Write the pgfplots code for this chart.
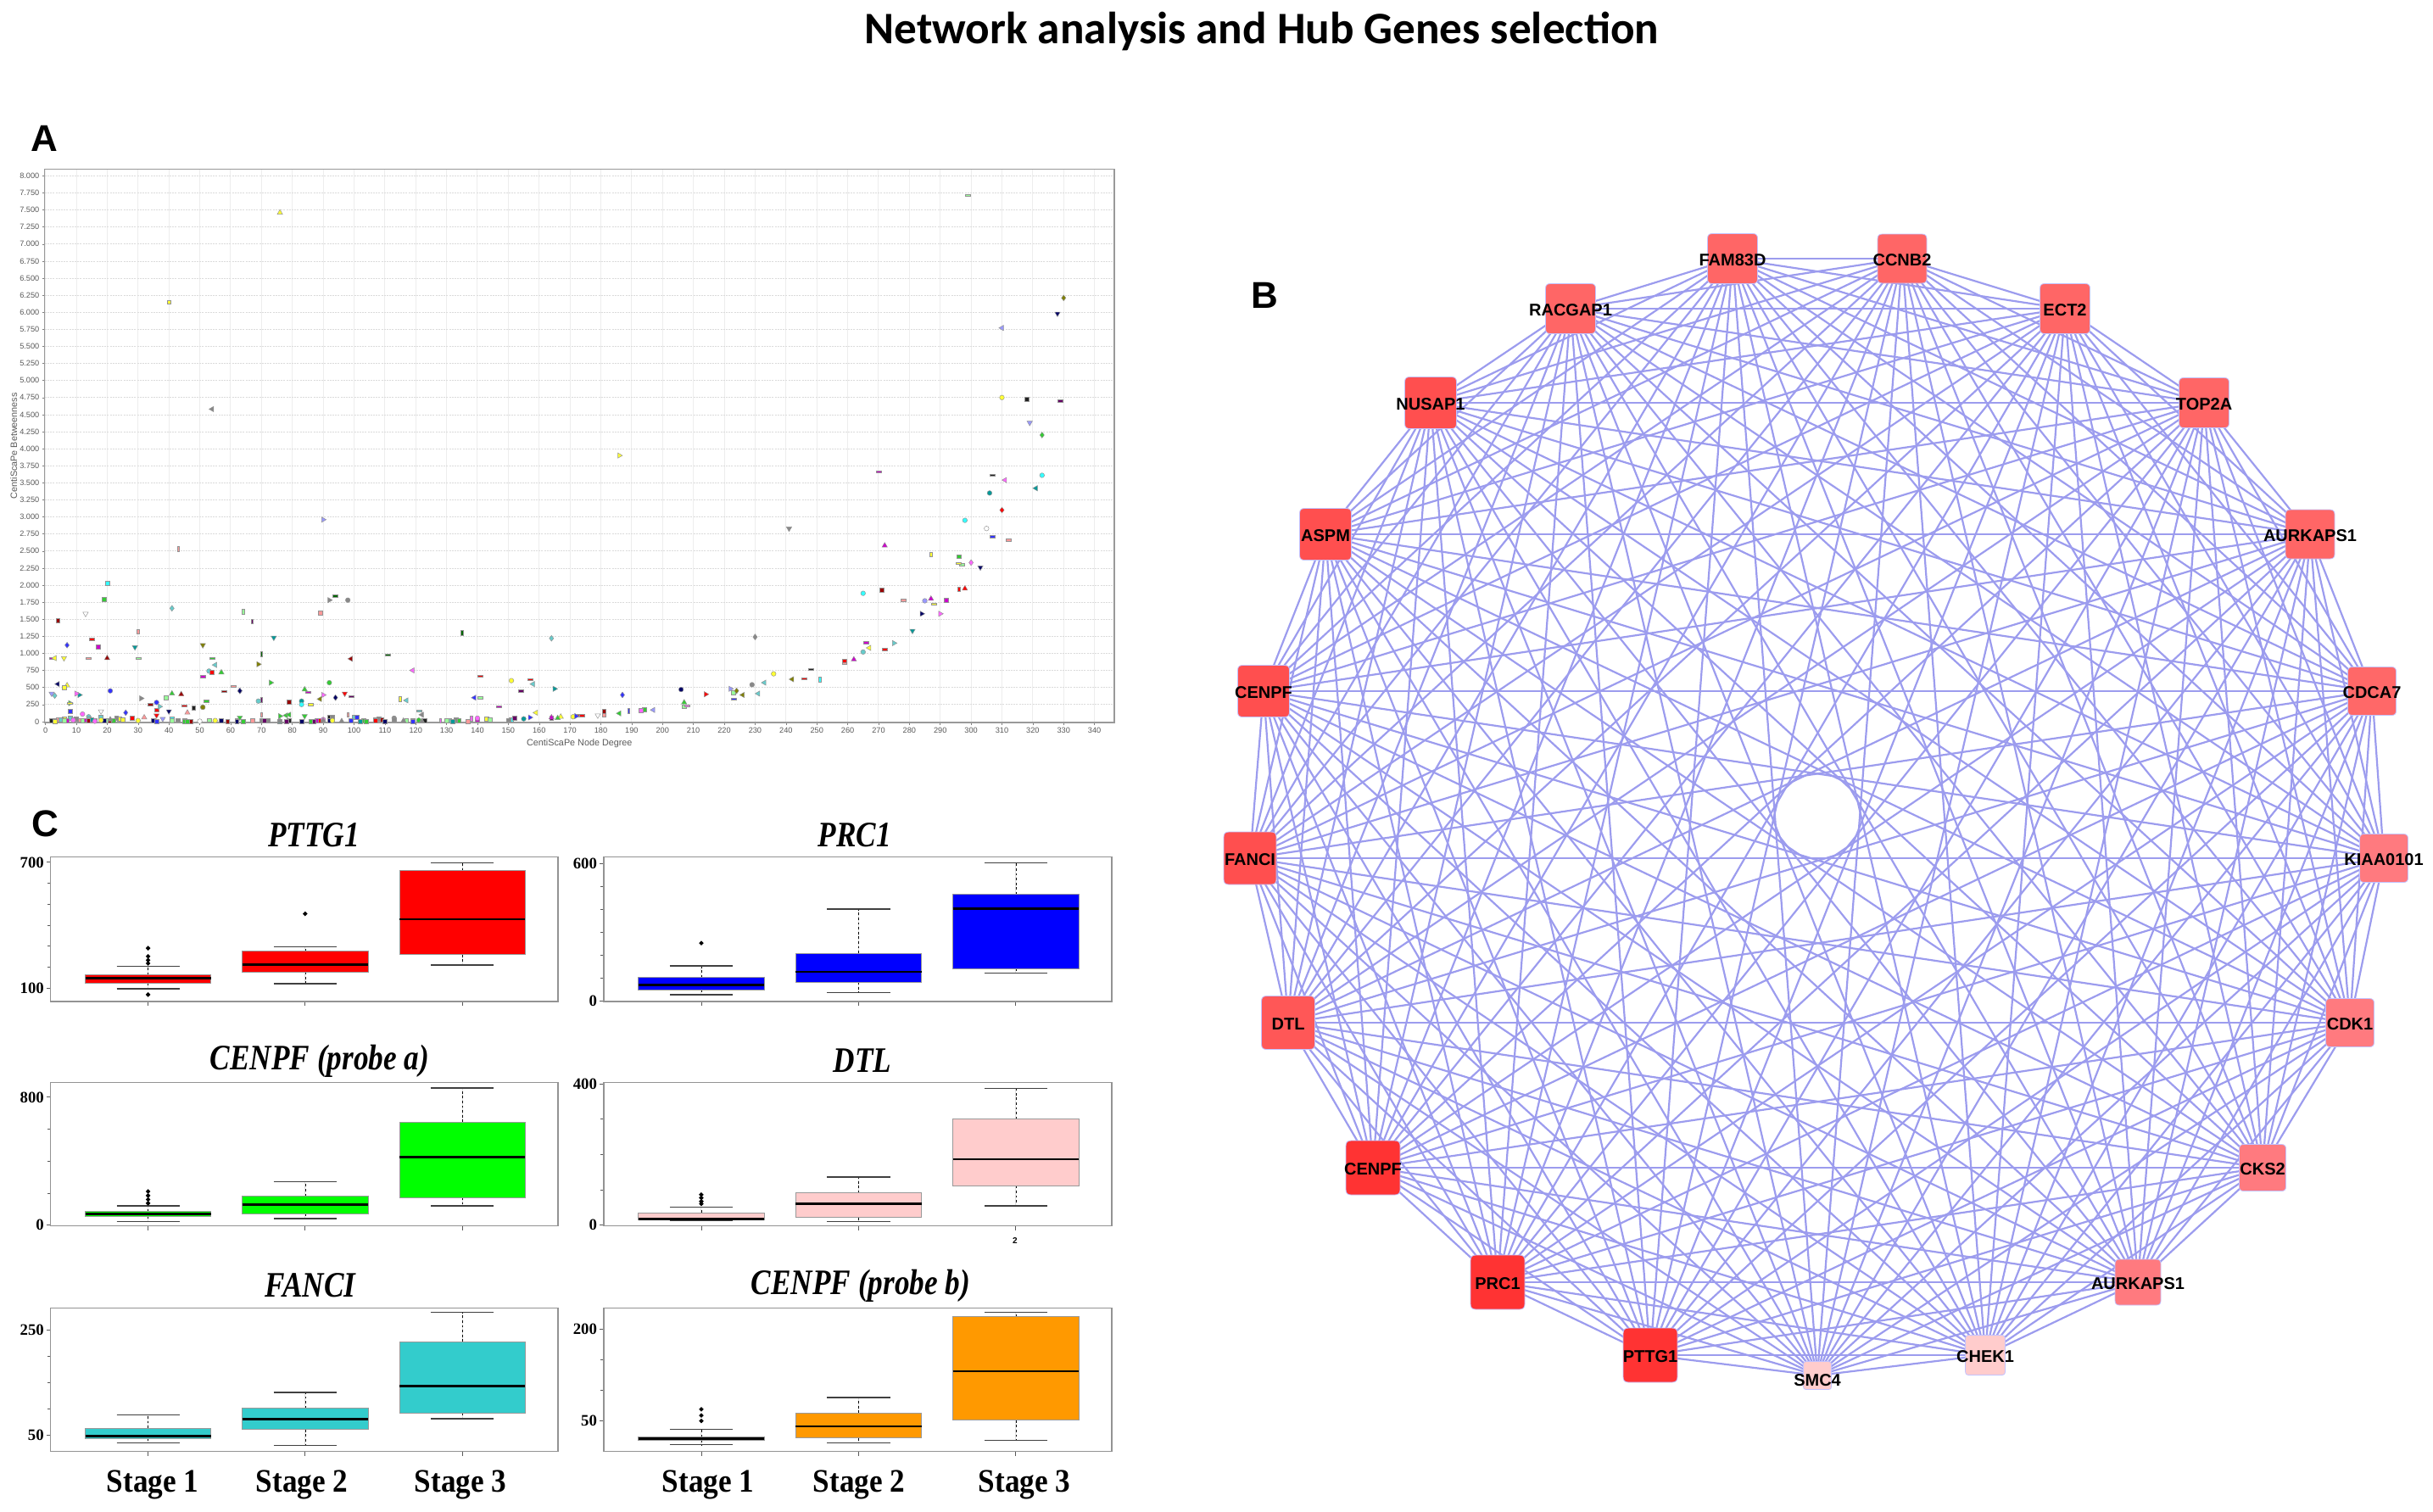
\documentclass[border=0pt]{standalone}
\usepackage{fontspec}
\usepackage{graphicx}
\usepackage{pgfplots}
\pgfplotsset{compat=1.18}
\usepgfplotslibrary{statistics}
\setmainfont{Liberation Sans}
\newfontfamily\serifb{Liberation Serif}[BoldFont={Liberation Serif Bold},BoldItalicFont={Liberation Serif Bold Italic}]
\newfontfamily\carl{Carlito}
\definecolor{yel}{HTML}{FFFF33}\definecolor{cya}{HTML}{33FFFF}\definecolor{gre}{HTML}{33CC33}
\definecolor{lgr}{HTML}{99FF99}\definecolor{dgr}{HTML}{006600}\definecolor{rd}{HTML}{FF0000}
\definecolor{dre}{HTML}{990000}\definecolor{pin}{HTML}{FF9999}\definecolor{mag}{HTML}{CC00CC}
\definecolor{lma}{HTML}{FF66FF}\definecolor{pur}{HTML}{660066}\definecolor{blu}{HTML}{3333FF}
\definecolor{nav}{HTML}{000066}\definecolor{tea}{HTML}{009999}\definecolor{lte}{HTML}{66CCCC}
\definecolor{gry}{HTML}{888888}\definecolor{oli}{HTML}{808000}\definecolor{blk}{HTML}{222222}
\definecolor{vio}{HTML}{9999FF}\definecolor{edgec}{HTML}{9C9CEE}
\definecolor{fanc}{HTML}{33CCCC}\definecolor{orng}{HTML}{FF9900}\definecolor{lpk}{HTML}{FFCCCC}
\definecolor{n1}{HTML}{FF6666}\definecolor{n2}{HTML}{FF4F4F}\definecolor{n3}{HTML}{FF3333}
\definecolor{n4}{HTML}{FF7A7F}\definecolor{n5}{HTML}{FFCCCC}\definecolor{n6}{HTML}{FF5757}
\pgfdeclareplotmark{rbox}{%
  \pgfpathmoveto{\pgfqpoint{-.8\pgfplotmarksize}{-\pgfplotmarksize}}%
  \pgfpathlineto{\pgfqpoint{.8\pgfplotmarksize}{-\pgfplotmarksize}}%
  \pgfpathcurveto{\pgfqpoint{.94\pgfplotmarksize}{-\pgfplotmarksize}}{\pgfqpoint{\pgfplotmarksize}{-.94\pgfplotmarksize}}{\pgfqpoint{\pgfplotmarksize}{-.8\pgfplotmarksize}}%
  \pgfpathlineto{\pgfqpoint{\pgfplotmarksize}{.8\pgfplotmarksize}}%
  \pgfpathcurveto{\pgfqpoint{\pgfplotmarksize}{.94\pgfplotmarksize}}{\pgfqpoint{.94\pgfplotmarksize}{\pgfplotmarksize}}{\pgfqpoint{.8\pgfplotmarksize}{\pgfplotmarksize}}%
  \pgfpathlineto{\pgfqpoint{-.8\pgfplotmarksize}{\pgfplotmarksize}}%
  \pgfpathcurveto{\pgfqpoint{-.94\pgfplotmarksize}{\pgfplotmarksize}}{\pgfqpoint{-\pgfplotmarksize}{.94\pgfplotmarksize}}{\pgfqpoint{-\pgfplotmarksize}{.8\pgfplotmarksize}}%
  \pgfpathlineto{\pgfqpoint{-\pgfplotmarksize}{-.8\pgfplotmarksize}}%
  \pgfpathcurveto{\pgfqpoint{-\pgfplotmarksize}{-.94\pgfplotmarksize}}{\pgfqpoint{-.94\pgfplotmarksize}{-\pgfplotmarksize}}{\pgfqpoint{-.8\pgfplotmarksize}{-\pgfplotmarksize}}%
  \pgfpathclose\pgfusepathqfillstroke}
\pgfplotsset{
  mks/.style={mark=square*,mark size=.6pt},
  mko/.style={mark=*,mark size=.7pt},
  mkm/.style={mark=diamond*,mark size=.85pt},
  mkt/.style={mark=triangle*,mark size=.9pt},
  mkd/.style={mark=triangle*,mark size=.9pt,every mark/.append style={rotate=180}},
  mkl/.style={mark=triangle*,mark size=.9pt,every mark/.append style={rotate=90}},
  mkr/.style={mark=triangle*,mark size=.9pt,every mark/.append style={rotate=-90}},
  mkh/.style={mark=square*,mark size=.6pt,every mark/.append style={xscale=1.25,yscale=.5}},
  mkv/.style={mark=square*,mark size=.6pt,every mark/.append style={xscale=.55,yscale=1.2}},
}
\newcommand\Pt[3]{\addplot[forget plot,only marks,mk#1,every mark/.append style={fill=#2,draw=gray!85,line width=.12pt}] coordinates {#3};}
% ---- box panels
\newcommand\Bx[9]{% pos, colour, lw, q1, med, q3, uw, data spec
  \addplot[forget plot,boxplot prepared={draw position=#1,lower whisker=#3,lower quartile=#4,median=#5,upper quartile=#6,upper whisker=#7},
    fill=#2,mark=*,mark size=.42pt,every mark/.append style={fill=black,draw=black},draw=black] #8#9;}
\pgfplotsset{
  boxstyle/.style={scale only axis,xmin=.38,xmax=3.61,clip=false,
    axis line style={draw=gray!85,line width=.3pt},
    tick align=outside,tick pos=left,xtick={1,2,3},xticklabels={},
    major tick length=1.2pt,minor tick length=.9pt,
    tick style={draw=gray!70!black,line width=.2pt},
    yticklabel style={font=\serifb\bfseries\fontsize{4.7}{5}\selectfont,inner sep=.6pt,/pgf/number format/assume math mode=true},
    boxplot/box extend=.8,boxplot/whisker extend=.4,boxplot/draw direction=y,
    boxplot/every box/.style={draw=gray!80,line width=.2pt},
    boxplot/every median/.style={draw=black,line width=.65pt},
    boxplot/draw/lower whisker/.code={%
      \draw[black,dash pattern=on .7pt off .7pt,line width=.12pt] (boxplot box cs:\pgfplotsboxplotvalue{lower quartile},.5) -- (boxplot box cs:\pgfplotsboxplotvalue{lower whisker},.5);
      \draw[black!75,line width=.35pt] (boxplot whisker cs:\pgfplotsboxplotvalue{lower whisker},0) -- (boxplot whisker cs:\pgfplotsboxplotvalue{lower whisker},1);},
    boxplot/draw/upper whisker/.code={%
      \draw[black,dash pattern=on .7pt off .7pt,line width=.12pt] (boxplot box cs:\pgfplotsboxplotvalue{upper quartile},.5) -- (boxplot box cs:\pgfplotsboxplotvalue{upper whisker},.5);
      \draw[black!75,line width=.35pt] (boxplot whisker cs:\pgfplotsboxplotvalue{upper whisker},0) -- (boxplot whisker cs:\pgfplotsboxplotvalue{upper whisker},1);},
  },
  edge/.style={forget plot,draw=edgec,line width=.55pt,mark=none},
}
\newcommand\Nd[6][-.3pt]{\addplot[forget plot,only marks,mark=rbox,mark size=#4*0.125pt,
   every mark/.append style={fill=#5,draw=vio!60,line width=.2pt},
   nodes near coords={#6},
   every node near coord/.append style={anchor=center,inner sep=0pt,text=black,yshift=#1,
      font=\bfseries\fontsize{5}{6}\selectfont}] coordinates {(#2,#3)};}
\newcommand\Ttl[3]{\node[font=\serifb\bfseries\itshape\fontsize{8.8}{10}\selectfont] at (axis cs:#1,#2) {\scalebox{1}[1.2]{#3}};}
\newcommand\Stg[2]{\node[font=\serifb\bfseries\fontsize{8.8}{10}\selectfont] at (axis cs:#1,1751) {\scalebox{1}[1.1]{Stage #2}};}
\def\NX{{2043,2243,2435,2599,2724,2797,2811,2771,2668,2521,2341,2143,1946,1766,1619,1519,1474,1490,1563,1687,1852}}
\def\NY{{305,305,364,475,630,815,1012,1206,1377,1512,1598,1622,1598,1512,1377,1206,1012,815,630,475,364}}
\begin{document}
\begin{tikzpicture}
\path[use as bounding box] (0pt,0pt) rectangle (717.25pt,445.5pt);
% ===== overlay: title, letters, network
\begin{axis}[at={(0pt,0pt)},anchor=south west,scale only axis,width=717.25pt,height=445.5pt,
  xmin=0,xmax=2869,ymin=0,ymax=1782,y dir=reverse,hide axis,clip=false]
\foreach \i in {0,...,19}{%
  \pgfmathtruncatemacro\k{\i+1}%
  \foreach \j in {\k,...,20}{%
    \pgfmathtruncatemacro\xa{\NX[\i]}\pgfmathtruncatemacro\ya{\NY[\i]}%
    \pgfmathtruncatemacro\xb{\NX[\j]}\pgfmathtruncatemacro\yb{\NY[\j]}%
    \edef\tmp{\noexpand\addplot[edge] coordinates {(\xa,\ya)(\xb,\yb)};}\tmp
  }}
\Nd{2043}{305}{59}{n1}{FAM83D}
\Nd{2243}{305}{58}{n1}{CCNB2}
\Nd{2435}{364}{59}{n1}{ECT2}
\Nd{2599}{475}{59}{n1}{TOP2A}
\Nd{2724}{630}{58}{n1}{AURKAPS1}
\Nd{2797}{815}{57}{n1!90!n4}{CDCA7}
\Nd{2811}{1012}{57}{n4}{KIAA0101}
\Nd{2771}{1206}{57}{n4}{CDK1}
\Nd{2668}{1377}{55}{n4}{CKS2}
\Nd{2521}{1512}{54}{n4}{AURKAPS1}
\Nd{2341}{1598}{47}{n5}{CHEK1}
\Nd[-1.5pt]{2143}{1622}{33}{n5}{SMC4}
\Nd{1946}{1598}{64}{n3}{PTTG1}
\Nd{1766}{1512}{64}{n3}{PRC1}
\Nd{1619}{1377}{64}{n3}{CENPF}
\Nd{1519}{1206}{63}{n6}{DTL}
\Nd{1474}{1012}{62}{n2}{FANCI}
\Nd{1490}{815}{61}{n2}{CENPF}
\Nd{1563}{630}{61}{n2}{ASPM}
\Nd{1687}{475}{61}{n2}{NUSAP1}
\Nd{1852}{364}{59}{n1}{RACGAP1}
\node[font=\carl\bfseries\fontsize{13.3}{15}\selectfont] at (axis cs:1488,37) {Network analysis and Hub Genes selection};
\node[font=\bfseries\fontsize{11}{12}\selectfont] at (axis cs:52,163) {A};
\node[font=\bfseries\fontsize{11}{12}\selectfont] at (axis cs:1491,348) {B};
\node[font=\bfseries\fontsize{11}{12}\selectfont] at (axis cs:53,971) {C};
\Ttl{370}{985}{PTTG1}
\Ttl{1008}{985}{PRC1}
\Ttl{377}{1251}{CENPF (probe a)}
\Ttl{1017}{1251}{DTL}
\Ttl{366}{1516}{FANCI}
\Ttl{1015}{1516}{CENPF (probe b)}
\Stg{180}{1}
\Stg{356}{2}
\Stg{543}{3}
\Stg{835}{1}
\Stg{1013}{2}
\Stg{1208}{3}
\node[font=\bfseries\fontsize{2.5}{3}\selectfont] at (axis cs:1197,1463) {2};
\end{axis}
% ===== Panel A
\begin{axis}[at={(13.18pt,395.68pt)},anchor=north west,scale only axis,width=315.3pt,height=163.2pt,
  xmin=-.25,xmax=346.4,ymin=-15,ymax=8100,clip=false,
  axis line style={draw=gray!80,line width=.3pt},
  xtick={0,10,...,340},
  ytick={0,250,...,8000},
  yticklabels={0,250,500,750,1.000,1.250,1.500,1.750,2.000,2.250,2.500,2.750,3.000,3.250,3.500,3.750,4.000,4.250,4.500,4.750,5.000,5.250,5.500,5.750,6.000,6.250,6.500,6.750,7.000,7.250,7.500,7.750,8.000},
  tick pos=left,tick align=outside,major tick length=.8pt,tick style={draw=gray,line width=.12pt},
  /pgf/number format/assume math mode=true,
  ticklabel style={font=\fontsize{2.3}{3}\selectfont,text=gray!70!black,inner sep=.6pt},
  x grid style={draw=gray!14,line width=.25pt},
  y grid style={draw=gray!28,line width=.18pt,dash pattern=on .5pt off .3pt},
  grid=major,
  xlabel={CentiScaPe Node Degree},
  ylabel={CentiScaPe Betweenness},
  label style={font=\fontsize{2.7}{3}\selectfont,text=gray!70!black},
  xlabel style={at={(axis description cs:.5,0)},anchor=north,yshift=-1.3pt},
  ylabel style={at={(axis description cs:0,.5)},anchor=south,yshift=4.6pt},
]
\Pt{t}{yel}{(76,7460)(167,70)(7,530)}
\Pt{s}{yel}{(40,6150)(143,40)}
\Pt{l}{gry}{(54,4580)(122,100)}
\Pt{r}{vio}{(90,2960)(222,480)}
\Pt{v}{pin}{(43,2530)(30,1320)(70,100)(98,100)}
\Pt{s}{cya}{(20,2030)(41,40)(151,30)}
\Pt{s}{gre}{(19,1790)(296,2420)(194,180)}
\Pt{m}{lte}{(41,1660)(164,1220)(3,380)}
\Pt{r}{gry}{(92,1780)(31,340)}
\Pt{h}{dgr}{(94,1840)(111,980)}
\Pt{o}{gry}{(98,1780)(229,540)(113,50)}
\Pt{s}{pin}{(89,1590)(181,100)(259,870)}
\Pt{v}{lgr}{(64,1610)}
\Pt{d}{white}{(13,1580)(18,150)(179,90)}
\Pt{v}{pur}{(67,1470)(70,320)}
\Pt{s}{dre}{(4,1480)(79,290)(271,1930)(181,150)}
\Pt{v}{dgr}{(135,1300)(70,990)}
\Pt{h}{rd}{(15,1210)(141,670)(157,620)(45,230)(173,90)(246,630)(272,1060)}
\Pt{d}{tea}{(74,1230)(29,1090)(281,1330)}
\Pt{m}{blu}{(7,1120)(63,450)(26,130)(187,390)}
\Pt{s}{mag}{(17,1100)(292,1780)(140,20)}
\Pt{d}{oli}{(51,1120)}
\Pt{h}{mag}{(2,930)(51,660)(147,220)(85,430)(270,3660)(266,1160)}
\Pt{l}{yel}{(3,930)(159,130)(267,1080)}
\Pt{d}{yel}{(6,930)}
\Pt{h}{pin}{(14,930)(61,520)(278,1780)(312,2660)}
\Pt{t}{dre}{(20,930)(44,400)}
\Pt{h}{lgr}{(30,930)(141,350)(297,2300)(299,7716)}
\Pt{h}{gre}{(54,930)(52,300)}
\Pt{l}{dre}{(99,920)}
\Pt{l}{lte}{(55,830)(158,550)(231,410)(233,570)(117,310)}
\Pt{t}{gre}{(57,720)(84,470)(41,410)}
\Pt{o}{lte}{(53,740)(265,1020)(69,300)(14,70)}
\Pt{s}{rd}{(54,720)(36,170)(259,890)}
\Pt{r}{oli}{(69,840)}
\Pt{l}{lma}{(119,750)(311,3540)}
\Pt{l}{nav}{(4,550)}
\Pt{s}{yel}{(6,500)}
\Pt{r}{gre}{(73,570)(8,270)(76,80)}
\Pt{o}{gre}{(92,570)(121,20)}
\Pt{o}{yel}{(151,600)(51,210)(236,700)(310,4750)(171,70)}
\Pt{h}{pur}{(154,450)(329,4700)(99,370)}
\Pt{r}{tea}{(165,480)(11,390)}
\Pt{d}{vio}{(2,410)(319,4380)(38,40)}
\Pt{r}{lma}{(10,410)(90,390)(290,1580)}
\Pt{o}{blu}{(21,450)(36,280)}
\Pt{s}{lgr}{(39,350)(144,30)(207,220)(223,420)}
\Pt{h}{dre}{(58,440)(34,250)}
\Pt{l}{blu}{(139,350)}
\Pt{d}{rd}{(97,410)(36,90)}
\Pt{l}{oli}{(89,330)(242,620)(226,390)}
\Pt{m}{nav}{(94,350)(63,450)}
\Pt{v}{yel}{(115,330)(287,2450)}
\Pt{r}{lte}{(275,1150)(37,220)}
\Pt{h}{lte}{(121,160)}
\Pt{h}{yel}{(8,270)(86,250)(288,1720)(296,2320)}
\Pt{h}{blk}{(248,770)(307,3610)}
\Pt{s}{blk}{(48,200)(318,4725)}
\Pt{o}{tea}{(83,300)(306,3350)}
\Pt{o}{cya}{(83,250)(298,2950)(323,3610)(265,1880)}
\Pt{s}{blu}{(8,150)}
\Pt{o}{lma}{(12,110)(140,50)}
\Pt{t}{pin}{(32,60)(46,130)}
\Pt{d}{nav}{(40,150)(328,5980)(303,2260)}
\Pt{d}{gre}{(63,60)(84,80)}
\Pt{l}{gre}{(186,120)(78,90)(79,100)}
\Pt{m}{oli}{(330,6210)(224,450)}
\Pt{l}{vio}{(310,5770)(197,170)}
\Pt{m}{gre}{(323,4200)}
\Pt{r}{yel}{(186,3900)}
\Pt{l}{tea}{(321,3420)}
\Pt{m}{rd}{(310,3100)}
\Pt{d}{gry}{(241,2830)}
\Pt{o}{white}{(305,2830)(50,5)}
\Pt{h}{blu}{(307,2710)(223,330)}
\Pt{t}{mag}{(272,2580)(262,910)(287,1800)}
\Pt{m}{lma}{(300,2330)}
\Pt{o}{oli}{(51,210)}
\Pt{t}{rd}{(298,1950)}
\Pt{v}{rd}{(296,1940)}
\Pt{o}{vio}{(285,1770)}
\Pt{r}{nav}{(284,1580)}
\Pt{m}{gry}{(230,1240)}
\Pt{v}{cya}{(251,620)}
\Pt{o}{nav}{(206,470)}
\Pt{r}{rd}{(214,400)}
\Pt{h}{lma}{(208,230)}
\Pt{s}{lma}{(193,165)}
\Pt{v}{blu}{(189,160)}
\Pt{t}{gre}{(207,280)}
% crowded strip along the axis
\Pt{s}{blk}{(2,10)(3,15)(92,70)(79,15)(123,15)}
\Pt{s}{pin}{(4,30)(11,20)(22,15)(45,10)(67,10)(107,25)(137,5)}
\Pt{s}{yel}{(3,5)(6,40)(16,10)(24,40)(25,30)(93,25)}
\Pt{s}{lte}{(5,25)(8,50)(14,40)(18,70)(100,60)(131,15)}
\Pt{s}{mag}{(7,15)(13,20)(62,15)(57,10)(88,15)(119,15)}
\Pt{s}{gry}{(9,30)(10,40)(23,50)(43,20)(70,15)(72,15)(93,60)(108,40)(133,25)(113,30)(150,20)}
\Pt{s}{lgr}{(6,15)(12,10)(20,10)(41,10)(53,20)(130,15)(117,15)}
\Pt{s}{rd}{(15,20)(28,55)(89,15)(107,15)}
\Pt{s}{dre}{(14,10)(21,15)(47,5)(59,5)(109,30)}
\Pt{s}{nav}{(19,10)(35,10)(57,10)(62,5)(83,5)(92,10)(110,5)}
\Pt{s}{gre}{(22,10)(45,5)(46,5)(64,5)(86,5)(103,10)(104,5)(134,10)}
\Pt{s}{blu}{(36,5)(99,10)(101,60)(119,5)}
\Pt{s}{tea}{(15,30)(102,5)(76,5)(132,5)}
\Pt{o}{yel}{(18,20)(30,15)(55,15)(93,15)}
\Pt{o}{lma}{(90,30)(9,20)(16,5)}
\Pt{t}{gry}{(21,30)(76,5)(90,15)(116,10)(122,5)(96,5)}
\Pt{s}{pur}{(152,50)(71,10)(164,50)(78,5)(87,5)}
\Pt{r}{blu}{(157,60)(172,80)}
\Pt{o}{tea}{(155,40)}
\Pt{t}{mag}{(164,60)}
\Pt{h}{rd}{(174,90)}
\Pt{t}{gre}{(166,50)}
\Pt{v}{lma}{(128,15)(138,50)}
\end{axis}
% ===== Panel C
\begin{axis}[boxstyle,at={(14.95pt,192.9pt)},anchor=north west,width=149.55pt,height=42.65pt,
  ymin=37,ymax=726,ytick={100,700},yticklabels={100,700},minor ytick={200,300,400,500,600}]
\Bx{1}{rd}{98}{126}{148}{165}{204}{table[row sep=\\,y index=0]}{{data\\291\\252\\234\\219\\70\\}}
\Bx{2}{rd}{122}{178}{213}{278}{297}{table[row sep=\\,y index=0]}{{data\\455\\}}
\Bx{3}{rd}{210}{260}{429}{661}{698}{coordinates}{{}}
\end{axis}
\begin{axis}[boxstyle,at={(178pt,192.9pt)},anchor=north west,width=149.75pt,height=42.65pt,
  ymin=-1,ymax=628,ytick={0,600},yticklabels={0,600},minor ytick={100,200,300,400,500}]
\Bx{1}{blue}{28}{51}{71}{103}{154}{table[row sep=\\,y index=0]}{{data\\253\\}}
\Bx{2}{blue}{37}{83}{128}{209}{401}{coordinates}{{}}
\Bx{3}{blue}{122}{142}{403}{464}{602}{coordinates}{{}}
\end{axis}
\begin{axis}[boxstyle,at={(14.95pt,126.33pt)},anchor=north west,width=149.55pt,height=42.3pt,
  ymin=-6,ymax=891,ytick={0,800},yticklabels={0,800},minor ytick={200,400,600}]
\Bx{1}{green}{23}{57}{71}{85}{120}{table[row sep=\\,y index=0]}{{data\\211\\185\\160\\137\\}}
\Bx{2}{green}{40}{71}{128}{182}{273}{coordinates}{{}}
\Bx{3}{green}{120}{174}{424}{644}{858}{coordinates}{{}}
\end{axis}
\begin{axis}[boxstyle,at={(178pt,126.33pt)},anchor=north west,width=149.75pt,height=42.3pt,
  ymin=-3,ymax=403,ytick={0,400},yticklabels={0,400},minor ytick={100,200,300}]
\Bx{1}{lpk}{13}{15}{17}{35}{51}{table[row sep=\\,y index=0]}{{data\\86\\77\\67\\60\\}}
\Bx{2}{lpk}{10}{21}{60}{91}{136}{coordinates}{{}}
\Bx{3}{lpk}{54}{111}{186}{300}{387}{coordinates}{{}}
\end{axis}
\begin{axis}[boxstyle,at={(14.95pt,59.85pt)},anchor=north west,width=149.55pt,height=42.28pt,
  ymin=18,ymax=292,ytick={50,250},yticklabels={50,250},minor ytick={100,150,200}]
\Bx{1}{fanc}{35}{43}{48}{63}{88}{coordinates}{{}}
\Bx{2}{fanc}{30}{60}{80}{101}{131}{coordinates}{{}}
\Bx{3}{fanc}{81}{92}{143}{228}{284}{coordinates}{{}}
\end{axis}
\begin{axis}[boxstyle,at={(178pt,59.85pt)},anchor=north west,width=149.75pt,height=42.28pt,
  ymin=0,ymax=234,ytick={50,200},yticklabels={50,200},minor ytick={100,150}]
\Bx{1}{orng}{11}{19}{21}{24}{36}{table[row sep=\\,y index=0]}{{data\\69\\59\\50\\}}
\Bx{2}{orng}{14}{22}{41}{63}{88}{coordinates}{{}}
\Bx{3}{orng}{18}{51}{131}{220}{227}{coordinates}{{}}
\end{axis}
\end{tikzpicture}
\end{document}
